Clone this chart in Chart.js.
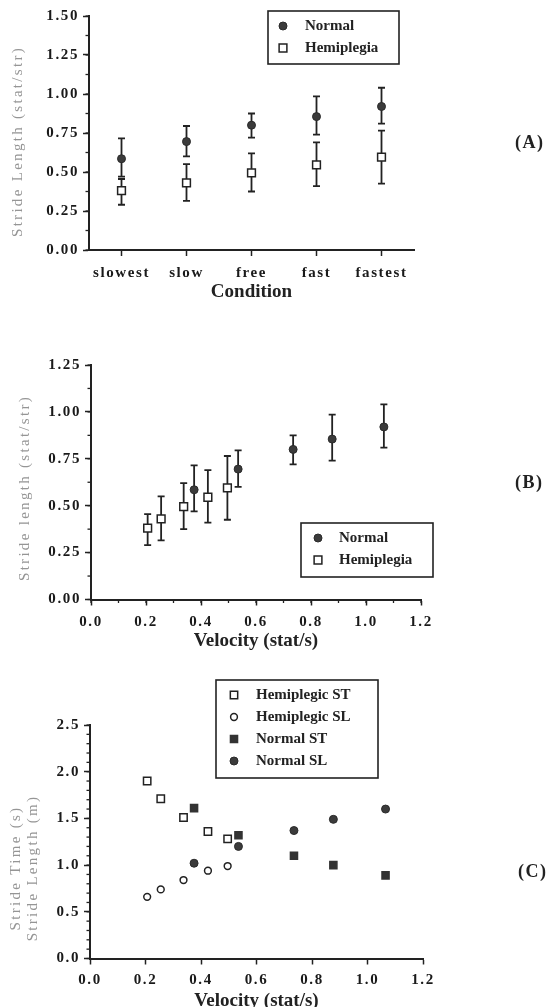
<!DOCTYPE html>
<html>
<head>
<meta charset="utf-8">
<script src="https://cdn.jsdelivr.net/npm/chart.js@4.4.0/dist/chart.umd.min.js"></script>
<style>
  body { margin: 0; background: #fff; width: 547px; height: 1007px; overflow: hidden; position: relative; }
  .panel { position: absolute; left: 0; width: 547px; }
  .tag { position: absolute; font: bold 18px 'Liberation Serif', serif; letter-spacing: 1.5px; color: #222; line-height: 20px; }
</style>
</head>
<body>
<div class="panel" style="top:0;height:310px"><canvas id="chartA"></canvas></div>
<div class="panel" style="top:340px;height:320px"><canvas id="chartB"></canvas></div>
<div class="panel" style="top:660px;height:360px"><canvas id="chartC"></canvas></div>
<div class="tag" style="left:515px;top:132px">(A)</div>
<div class="tag" style="left:515px;top:472px">(B)</div>
<div class="tag" style="left:518px;top:861px">(C)</div>
<script>
// stride length by walking condition (mean, low / high end of bar)
const conditions = ['slowest', 'slow', 'free', 'fast', 'fastest'];
const normalLength = [0.585, 0.695, 0.80, 0.855, 0.92];
const normalLow = [0.47, 0.60, 0.72, 0.74, 0.81];
const normalHigh = [0.715, 0.795, 0.875, 0.985, 1.04];
const hemiLength = [0.38, 0.43, 0.495, 0.545, 0.595];
const hemiLow = [0.29, 0.315, 0.375, 0.41, 0.425];
const hemiHigh = [0.455, 0.55, 0.62, 0.69, 0.765];

// velocities for each condition
const normalVelocity = [0.375, 0.535, 0.735, 0.877, 1.065];
const hemiVelocity = [0.206, 0.255, 0.337, 0.425, 0.496];

// panel C
const hemiStrideTime = [1.90, 1.71, 1.51, 1.36, 1.28];
const hemiStrideLen = [0.66, 0.74, 0.84, 0.94, 0.99];
const normalStrideTime = [1.61, 1.32, 1.10, 1.00, 0.89];
const normalStrideLen = [1.02, 1.20, 1.37, 1.49, 1.60];

// tick values
const yTicksA = [0, 0.25, 0.5, 0.75, 1.0, 1.25, 1.5];
const yTicksB = [0, 0.25, 0.5, 0.75, 1.0, 1.25];
const yTicksC = [0, 0.5, 1.0, 1.5, 2.0, 2.5];
const xTicksVel = [0, 0.2, 0.4, 0.6, 0.8, 1.0, 1.2];

Chart.defaults.font.family = '"Liberation Serif", serif';
const tickFont = { size: 15, weight: 'bold' };
const ink = '#222';

// spaced-out tick lettering like the printed figure
const spacing = {
    id: 'spacing',
    beforeDraw(chart) { chart.ctx.letterSpacing = '1.6px'; }
};

const errorBars = {
    id: 'errorBars',
    beforeDatasetsDraw(chart) {
        const ctx = chart.ctx, ys = chart.scales.y;
        chart.data.datasets.forEach(function(ds, i){
            if (!ds.low) return;
            ctx.save();
            ctx.strokeStyle = ink;
            ctx.lineWidth = 1.8;
            chart.getDatasetMeta(i).data.forEach(function(pt, j){
                const lo = ys.getPixelForValue(ds.low[j]), hi = ys.getPixelForValue(ds.high[j]);
                ctx.beginPath();
                ctx.moveTo(pt.x, lo); ctx.lineTo(pt.x, hi);
                ctx.moveTo(pt.x - 3.5, lo); ctx.lineTo(pt.x + 3.5, lo);
                ctx.moveTo(pt.x - 3.5, hi); ctx.lineTo(pt.x + 3.5, hi);
                ctx.stroke();
            });
            ctx.restore();
        });
    }
};

const minorTicks = {
    id: 'minorTicks',
    afterDraw(chart, args, o) {
        const ctx = chart.ctx;
        ctx.save();
        ctx.strokeStyle = ink;
        ctx.lineWidth = 1.3;
        ['x', 'y'].forEach(function(id){
            if (!o[id]) return;
            const s = chart.scales[id];
            const n = Math.round((s.max - s.min) / o[id]);
            for (let k = 0; k <= n; k++) {
                const p = s.getPixelForValue(s.min + k * o[id]);
                ctx.beginPath();
                if (id === 'x') { ctx.moveTo(p, s.top); ctx.lineTo(p, s.top + 3.5); }
                else { ctx.moveTo(s.right, p); ctx.lineTo(s.right - 3.5, p); }
                ctx.stroke();
            }
        });
        ctx.restore();
    }
};

function marker(ctx, ds, x, y) {
    const r = ds.pointRadius;
    ctx.fillStyle = ds.pointBackgroundColor;
    ctx.strokeStyle = ds.pointBorderColor;
    ctx.lineWidth = ds.pointBorderWidth;
    ctx.beginPath();
    if (ds.pointStyle === 'rect') {
        const h = r * Math.SQRT1_2;
        ctx.rect(x - h, y - h, 2 * h, 2 * h);
    } else {
        ctx.arc(x, y, r, 0, Math.PI * 2);
    }
    ctx.fill();
    ctx.stroke();
}

const boxLegend = {
    id: 'boxLegend',
    afterDraw(chart, args, o) {
        const ctx = chart.ctx;
        ctx.save();
        ctx.letterSpacing = '0px';
        ctx.strokeStyle = ink;
        ctx.lineWidth = 1.6;
        ctx.strokeRect(o.x, o.y, o.w, o.h);
        ctx.font = 'bold 15px "Liberation Serif"';
        ctx.textBaseline = 'middle';
        chart.data.datasets.forEach(function(ds, i){
            const cy = o.y + o.first + i * o.row;
            marker(ctx, ds, o.x + o.marker, cy);
            ctx.fillStyle = ink;
            ctx.fillText(ds.label, o.x + o.text, cy);
        });
        ctx.restore();
    }
};

const axisTitles = {
    id: 'axisTitles',
    afterDraw(chart, args, o) {
        const ctx = chart.ctx, area = chart.chartArea;
        ctx.save();
        ctx.textAlign = 'center';
        ctx.textBaseline = 'middle';
        ctx.letterSpacing = '0px';
        ctx.font = 'bold 19px "Liberation Serif"';
        ctx.fillStyle = ink;
        ctx.fillText(o.xText, (area.left + area.right) / 2, o.xY);
        ctx.letterSpacing = '2.3px';
        ctx.font = '15px "Liberation Serif"';
        ctx.fillStyle = '#959595';
        ctx.translate(o.yX, o.yY);
        ctx.rotate(-Math.PI / 2);
        o.yText.forEach(function(t, k){
            ctx.fillText(t, 0, (k - (o.yText.length - 1) / 2) * 16.5);
        });
        ctx.restore();
    }
};

function axis(width, height, extra) {
    return Object.assign({
        grid: { display: true, drawOnChartArea: false, drawTicks: true, tickLength: 6, tickWidth: 1.5, tickColor: ink },
        border: { display: true, color: ink, width: 2 },
        ticks: { color: '#1a1a1a', font: tickFont, padding: 4, maxRotation: 0, autoSkip: false },
        afterFit: function(s){ if (width) s.width = width; if (height) s.height = height; }
    }, extra);
}

function linear(values, min, max, digits, width, height, pad) {
    const a = axis(width, height, {
        type: 'linear', min: min, max: max,
        afterBuildTicks: function(s){ s.ticks = values.map(function(v){ return { value: v }; }); }
    });
    a.ticks.callback = function(v){ return v.toFixed(digits); };
    if (pad) a.ticks.padding = pad;
    return a;
}

function options(padding, scales, legend, titles, minor) {
    return {
        responsive: true,
        maintainAspectRatio: false,
        animation: false,
        events: [],
        layout: { padding: padding },
        scales: scales,
        plugins: {
            legend: { display: false },
            tooltip: { enabled: false },
            boxLegend: legend,
            axisTitles: titles,
            minorTicks: minor
        }
    };
}

const plugins = [spacing, errorBars, minorTicks, boxLegend, axisTitles];

function normalSet(label, data, extra) {
    return Object.assign({ label: label, data: data, showLine: false, pointStyle: 'circle', pointRadius: 4,
        pointBackgroundColor: '#3b3b3b', pointBorderColor: '#2a2a2a', pointBorderWidth: 1 }, extra);
}
function hemiSet(label, data, extra) {
    return Object.assign({ label: label, data: data, showLine: false, pointStyle: 'rect', pointRadius: 5.5,
        pointBackgroundColor: '#fff', pointBorderColor: ink, pointBorderWidth: 1.5 }, extra);
}
function pairs(xs, ys) {
    return xs.map(function(x, i){ return { x: x, y: ys[i] }; });
}

// (A) stride length vs condition
const xA = axis(0, 53, { type: 'category', offset: true });
xA.grid.offset = false;
xA.ticks.padding = 8;
new Chart(document.getElementById('chartA'), {
    type: 'line',
    data: {
        labels: conditions,
        datasets: [
            normalSet('Normal', normalLength, { low: normalLow, high: normalHigh }),
            hemiSet('Hemiplegia', hemiLength, { low: hemiLow, high: hemiHigh })
        ]
    },
    options: options({ left: 0, top: 16, right: 133, bottom: 7 },
        { x: xA, y: linear(yTicksA, 0, 1.5, 2, 89, 0) },
        { x: 268, y: 11, w: 131, h: 53, first: 15, row: 22, marker: 15, text: 37 },
        { xText: 'Condition', xY: 292.5, yText: ['Stride Length (stat/str)'], yX: 18.5, yY: 141.5 },
        { y: 0.125 }),
    plugins: plugins
});

// (B) stride length vs velocity
new Chart(document.getElementById('chartB'), {
    type: 'scatter',
    data: {
        datasets: [
            normalSet('Normal', pairs(normalVelocity, normalLength), { low: normalLow, high: normalHigh }),
            hemiSet('Hemiplegia', pairs(hemiVelocity, hemiLength), { low: hemiLow, high: hemiHigh })
        ]
    },
    options: options({ left: 0, top: 25, right: 126, bottom: 7.5 },
        { x: linear(xTicksVel, 0, 1.2, 1, 0, 53, 8), y: linear(yTicksB, 0, 1.25, 2, 91, 0) },
        { x: 301, y: 183, w: 132, h: 54, first: 15, row: 22, marker: 17, text: 38 },
        { xText: 'Velocity (stat/s)', xY: 301.5, yText: ['Stride length (stat/str)'], yX: 25, yY: 148 },
        { x: 0.1, y: 0.125 }),
    plugins: plugins
});

// (C) stride time and stride length vs velocity
new Chart(document.getElementById('chartC'), {
    type: 'scatter',
    data: {
        datasets: [
            hemiSet('Hemiplegic ST', pairs(hemiVelocity, hemiStrideTime), { pointRadius: 5.2 }),
            normalSet('Hemiplegic SL', pairs(hemiVelocity, hemiStrideLen), { pointRadius: 3.4, pointBackgroundColor: '#fff', pointBorderColor: ink, pointBorderWidth: 1.5 }),
            hemiSet('Normal ST', pairs(normalVelocity, normalStrideTime), { pointRadius: 5, pointBackgroundColor: '#333', pointBorderColor: '#333' }),
            normalSet('Normal SL', pairs(normalVelocity, normalStrideLen), { pointRadius: 4 })
        ]
    },
    options: options({ left: 0, top: 65, right: 124, bottom: 7.5 },
        { x: linear(xTicksVel, 0, 1.2, 1, 0, 54, 7), y: linear(yTicksC, 0, 2.5, 1, 90, 0) },
        { x: 216, y: 20, w: 162, h: 98, first: 15, row: 22, marker: 18, text: 40 },
        { xText: 'Velocity (stat/s)', xY: 341.5, yText: ['Stride Time (s)', 'Stride Length (m)'], yX: 24.5, yY: 208 },
        { y: 0.1 }),
    plugins: plugins
});
</script>
</body>
</html>
